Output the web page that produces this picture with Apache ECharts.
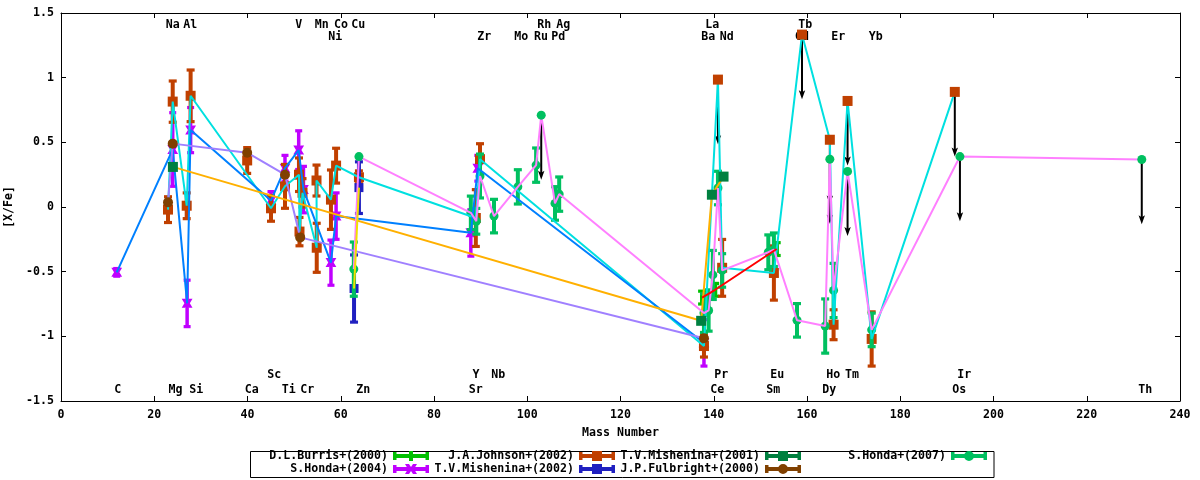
<!DOCTYPE html>
<html><head><meta charset="utf-8">
<script src="https://cdn.jsdelivr.net/npm/echarts@6/dist/echarts.min.js"></script>
<style>html,body{margin:0;padding:0;background:#fff}#c{width:1200px;height:480px}</style>
</head><body><div id="c"></div>
<script>
// ---------------- data ----------------
// [mass number, [X/Fe], error]
const burrisErr = [[137.5,-0.70,0.05],[140.3,-0.64,0.05],[153.5,-0.325,0.05]];
const honda04Err = [
  [11.95,-0.505,0.03],[23.96,0.445,0.285],[27.05,-0.745,0.18],[27.8,0.595,0.175],
  [45.04,0.05,0.07],[48.04,0.30,0.10],[50.98,0.44,0.15],[52.0,0.135,0.18],
  [57.9,-0.43,0.175],[59.0,-0.07,0.18],[87.9,-0.20,0.18],[89.4,0.30,0.10],[137.9,-1.05,0.18]
];
const johnsonErr = [
  [22.95,-0.02,0.10],[23.96,0.815,0.16],[26.96,0.01,0.10],[27.8,0.86,0.20],[39.93,0.36,0.10],
  [45.04,-0.01,0.10],[48.04,0.16,0.17],[51.05,0.25,0.13],[51.15,-0.19,0.11],[51.8,0.11,0.11],
  [54.8,0.205,0.12],[54.85,-0.315,0.19],[57.9,0.057,0.23],[59.0,0.32,0.135],[63.9,0.23,0.05],
  [88.97,-0.085,0.22],[89.87,0.37,0.12],[137.9,-1.075,0.085],[141.8,-0.47,0.22],
  [152.9,-0.51,0.21],[165.7,-0.91,0.116],[173.87,-1.02,0.21]
];
const johnsonLim = [[140.9,0.985],[158.93,1.333],[164.9,0.52],[168.7,0.82],[191.7,0.89]];
const mish02Err = [[62.85,-0.63,0.26],[63.9,0.15,0.20]];
const mish01Pts = [[24.0,0.31],[137.3,-0.88],[139.6,0.095],[142.1,0.235]];
const fulbPts = [[22.95,0.036],[23.96,0.49],[39.93,0.42],[48.04,0.25],[51.3,-0.235],[137.9,-1.015]];
const honda07Err = [
  [62.8,-0.48,0.21],[87.9,-0.045,0.13],[89.07,-0.11,0.10],[89.87,0.24,0.17],[92.87,-0.07,0.13],
  [97.98,0.156,0.133],[101.9,0.324,0.133],[105.95,0.028,0.13],[106.85,0.10,0.133],
  [137.9,-0.82,0.15],[138.9,-0.80,0.16],[139.8,-0.525,0.19],[140.9,0.147,0.13],[141.8,-0.49,0.13],
  [151.7,-0.35,0.135],[152.9,-0.33,0.13],[157.86,-0.876,0.13],[163.9,-0.92,0.21],
  [165.7,-0.645,0.21],[173.87,-0.95,0.13]
];
const honda07Pts = [[63.9,0.39]];
const honda07Lim = [[103.0,0.71],[164.9,0.37],[168.7,0.275],[192.8,0.39],[231.8,0.367]];
const limitDrop = 0.5;

// star abundance patterns (connecting lines)
const lineCyan = [[22.95,-0.02],[23.96,0.815],[26.96,0.01],[27.8,0.86],[45.04,-0.01],[48.04,0.16],
  [51.05,0.25],[51.15,-0.19],[51.8,0.11],[54.85,-0.315],[54.8,0.205],[57.9,0.057],[59.0,0.32],
  [63.9,0.23],[88.97,-0.085],[89.87,0.37],[137.9,-1.075],[140.9,0.985],[141.8,-0.47],[152.9,-0.51],
  [158.93,1.333],[164.9,0.52],[165.7,-0.91],[168.7,0.82],[173.87,-1.02],[191.7,0.89]];
const linePink = [[62.8,-0.48],[63.9,0.39],[87.9,-0.045],[89.07,-0.11],[89.87,0.24],[92.87,-0.07],
  [97.98,0.156],[101.9,0.324],[103.0,0.71],[105.95,0.028],[106.85,0.10],[137.9,-0.82],[138.9,-0.80],
  [139.8,-0.525],[140.9,0.147],[141.8,-0.49],[151.7,-0.35],[152.9,-0.33],[157.86,-0.876],
  [163.9,-0.92],[164.9,0.37],[165.7,-0.645],[168.7,0.275],[173.87,-0.95],[192.8,0.39],[231.8,0.367]];
const lineBlue = [[11.95,-0.505],[23.96,0.445],[27.05,-0.745],[27.8,0.595],[45.04,0.05],[48.04,0.30],
  [50.98,0.44],[52.0,0.135],[57.9,-0.43],[59.0,-0.07],[87.9,-0.20],[89.4,0.30],[137.9,-1.05]];
const lineLavender = [[22.95,0.036],[23.96,0.49],[39.93,0.42],[48.04,0.25],[51.3,-0.235],[137.9,-1.015]];
const lineOrange = [[24.0,0.31],[137.3,-0.88],[139.6,0.095],[142.1,0.235]];
const lineRed = [[137.5,-0.70],[140.3,-0.64],[153.5,-0.325]];
const lineYellow = [[62.85,-0.63],[63.9,0.15]];

// element labels: [name, mass]
const labelsTop1 = [['Na',23.96],['Al',27.73],['V',50.98],['Mn',55.91],['Co',60.05],['Cu',63.76],
  ['Rh',103.66],['Ag',107.73],['La',139.69],['Tb',159.63]];
const labelsTop2 = [['Ni',58.83],['Zr',90.79],['Mo',98.73],['Ru',102.95],['Pd',106.66],['Ba',138.83],
  ['Nd',142.78],['Gd',158.93],['Er',166.71],['Yb',174.73]];
const labelsBot1 = [['Sc',45.75],['Y',89.01],['Nb',93.79],['Pr',141.62],['Eu',153.63],['Ho',165.64],
  ['Tm',169.65],['Ir',193.74]];
const labelsBot2 = [['C',12.16],['Mg',24.56],['Si',29.02],['Ca',40.9],['Ti',48.84],['Cr',52.83],
  ['Zn',64.84],['Sr',88.94],['Ce',140.76],['Sm',152.77],['Dy',164.78],['Os',192.67],['Th',232.56]];

// ---------------- styles ----------------
const FONT = {fontFamily:'DejaVu Sans Mono', fontWeight:'bold', fontSize:11.6, color:'#000'};
const SRC = {
  burris:  {name:'D.L.Burris+(2000)',    color:'#00c000', marker:'tick',   size:10, bw:4,   cw:8},
  honda04: {name:'S.Honda+(2004)',       color:'#c000ff', marker:'x',      size:9,  bw:3.5, cw:7},
  johnson: {name:'J.A.Johnson+(2002)',   color:'#c04000', marker:'square', size:10, bw:4,   cw:8},
  mish02:  {name:'T.V.Mishenina+(2002)', color:'#2020c0', marker:'square', size:9,  bw:4,   cw:8},
  mish01:  {name:'T.V.Mishenina+(2001)', color:'#008040', marker:'square', size:10, bw:4,   cw:8},
  fulb:    {name:'J.P.Fulbright+(2000)', color:'#804000', marker:'circle', size:10, bw:4,   cw:8},
  honda07: {name:'S.Honda+(2007)',       color:'#00c060', marker:'circle', size:9,  bw:4,   cw:8}
};
const rowY = [1.404, 1.316, -1.300, -1.416];

function markerEl(type, cx, cy, s, color) {
  if (type === 'circle') return {type:'circle', shape:{cx:cx, cy:cy, r:s/2}, style:{fill:color}};
  if (type === 'tick') return {type:'rect', shape:{x:cx-2, y:cy-s/2, width:4, height:s}, style:{fill:color}};
  if (type === 'x') {
    const t = [[-6,-5],[-2,-5],[0,-2],[2,-5],[6,-5],[3,0],[6,5],[2,5],[0,2],[-2,5],[-6,5],[-3,0]];
    const k = s/10;
    return {type:'polygon', shape:{points:t.map(p => [cx+p[0]*k, cy+p[1]*k])}, style:{fill:color}};
  }
  return {type:'rect', shape:{x:cx-s/2, y:cy-s/2, width:s, height:s}, style:{fill:color}};
}
function errRender(src) {
  return function (params, api) {
    const x = api.value(0), y = api.value(1), e = api.value(2);
    const c = api.coord([x, y]);
    const ch = [];
    if (e > 0) {
      const t = api.coord([x, y + e]), b = api.coord([x, y - e]);
      ch.push({type:'rect', shape:{x:c[0]-src.bw/2, y:t[1], width:src.bw, height:b[1]-t[1]}, style:{fill:src.color}});
      ch.push({type:'rect', shape:{x:c[0]-src.cw/2, y:t[1]-1.5, width:src.cw, height:3.2}, style:{fill:src.color}});
      ch.push({type:'rect', shape:{x:c[0]-src.cw/2, y:b[1]-1.6, width:src.cw, height:3.2}, style:{fill:src.color}});
    }
    ch.push(markerEl(src.marker, c[0], c[1], src.size, src.color));
    return {type:'group', children:ch};
  };
}
function ptRender(src) {
  return function (params, api) {
    const c = api.coord([api.value(0), api.value(1)]);
    return markerEl(src.marker, c[0], c[1], src.size, src.color);
  };
}
function arrowRender(params, api) {
  const x = api.value(0), y = api.value(1);
  const p0 = api.coord([x, y]), p1 = api.coord([x, y - limitDrop]);
  return {type:'group', children:[
    {type:'line', shape:{x1:p0[0], y1:p0[1], x2:p1[0], y2:p1[1]-5}, style:{stroke:'#000', lineWidth:2}},
    {type:'polygon', shape:{points:[[p1[0]-3.2,p1[1]-9],[p1[0],p1[1]-7],[p1[0]+3.2,p1[1]-9],[p1[0],p1[1]]]}, style:{fill:'#000'}}
  ]};
}
function labelSeries(list, row) {
  return {type:'custom', z:1, silent:true, data:list.map(d => [d[1], rowY[row]]),
    renderItem: function (params, api) {
      const c = api.coord([api.value(0), api.value(1)]);
      return {type:'text', x:c[0], y:c[1], style:{text:list[params.dataIndex][0], align:'center', verticalAlign:'middle',
        fontFamily:FONT.fontFamily, fontWeight:'bold', fontSize:FONT.fontSize, fill:'#000'}};
    }};
}
function errSeries(src, data) {
  return {type:'custom', name:src.name, z:2, data:data, renderItem:errRender(src), itemStyle:{color:src.color}};
}
function ptSeries(src, data) {
  return {type:'custom', name:src.name, z:5, data:data, renderItem:ptRender(src), itemStyle:{color:src.color}};
}
function lineSeries(id, data, color) {
  return {type:'line', name:id, z:4, data:data, showSymbol:false, symbol:'none', silent:true,
    lineStyle:{color:color, width:2}, itemStyle:{color:color}};
}

const ICON_BASE = 'M0,1h3.5v8h-3.5Z M32.5,1h3.5v8h-3.5Z M3.5,3h29v4h-29Z ';
const ICON_MARK = {
  square:'M13,0h10v10h-10Z',
  circle:'M23,5A5,5 0 1,1 13,5A5,5 0 1,1 23,5Z',
  tick:'M16,0h4v10h-4Z',
  x:'M12,0h4l2,3l2,-3h4l-3,5l3,5h-4l-2,-3l-2,3h-4l3,-5Z'
};
function legendItem(src, right, top) {
  return {show:true, orient:'horizontal', align:'right', right:right, top:top, padding:0,
    itemWidth:36, itemHeight:10, selectedMode:false,
    data:[{name:src.name, icon:'path://' + ICON_BASE + ICON_MARK[src.marker]}],
    textStyle:{fontFamily:FONT.fontFamily, fontWeight:'bold', fontSize:FONT.fontSize, color:'#000'}};
}

const axisCommon = {
  axisLine:{show:true, onZero:false, lineStyle:{color:'#000', width:1}},
  axisTick:{show:true, inside:true, length:5, lineStyle:{color:'#000', width:1}},
  splitLine:{show:false}
};

const option = {
  animation:false,
  backgroundColor:'#fff',
  grid:{left:61, right:20, top:13, bottom:79, containLabel:false, outerBoundsMode:'none'},
  xAxis:[
    Object.assign({type:'value', min:0, max:240, interval:20, position:'bottom',
      axisLabel:Object.assign({margin:8}, FONT),
      name:'Mass Number', nameLocation:'middle', nameGap:26, nameTextStyle:FONT}, axisCommon),
    Object.assign({type:'value', min:0, max:240, interval:20, position:'top', axisLabel:{show:false}}, axisCommon)
  ],
  yAxis:[
    Object.assign({type:'value', min:-1.5, max:1.5, interval:0.5, position:'left',
      axisLabel:Object.assign({margin:7}, FONT),
      name:'[X/Fe]', nameLocation:'middle', nameRotate:90, nameGap:43, nameTextStyle:FONT}, axisCommon),
    Object.assign({type:'value', min:-1.5, max:1.5, interval:0.5, position:'right', axisLabel:{show:false}}, axisCommon)
  ],
  legend:[
    legendItem(SRC.burris, 771, 450), legendItem(SRC.honda04, 771, 463),
    legendItem(SRC.johnson, 585, 450), legendItem(SRC.mish02, 585, 463),
    legendItem(SRC.mish01, 399, 450), legendItem(SRC.fulb, 399, 463),
    legendItem(SRC.honda07, 213, 450)
  ],
  graphic:[{type:'rect', left:248, top:449, shape:{width:743.5, height:26},
    style:{fill:'none', stroke:'#000', lineWidth:1}, silent:true}],
  series:[
    labelSeries(labelsTop1,0), labelSeries(labelsTop2,1), labelSeries(labelsBot1,2), labelSeries(labelsBot2,3),
    errSeries(SRC.burris, burrisErr),
    errSeries(SRC.honda04, honda04Err),
    errSeries(SRC.johnson, johnsonErr),
    errSeries(SRC.mish02, mish02Err),
    errSeries(SRC.honda07, honda07Err),
    {type:'custom', name:'limits', z:3, silent:true, data:johnsonLim.concat(honda07Lim), renderItem:arrowRender},
    lineSeries('l-cyan', lineCyan, '#00e0e0'),
    lineSeries('l-blue', lineBlue, '#0080ff'),
    lineSeries('l-lavender', lineLavender, '#a080ff'),
    lineSeries('l-orange', lineOrange, '#ffb000'),
    lineSeries('l-pink', linePink, '#ff80ff'),
    lineSeries('l-red', lineRed, '#ff0000'),
    lineSeries('l-yellow', lineYellow, '#f0e000'),
    ptSeries(SRC.johnson, johnsonLim),
    ptSeries(SRC.mish01, mish01Pts),
    ptSeries(SRC.fulb, fulbPts),
    ptSeries(SRC.honda07, honda07Pts.concat(honda07Lim))
  ]
};
const chart = echarts.init(document.getElementById('c'), null, {renderer:'canvas'});
chart.setOption(option);
</script></body></html>
